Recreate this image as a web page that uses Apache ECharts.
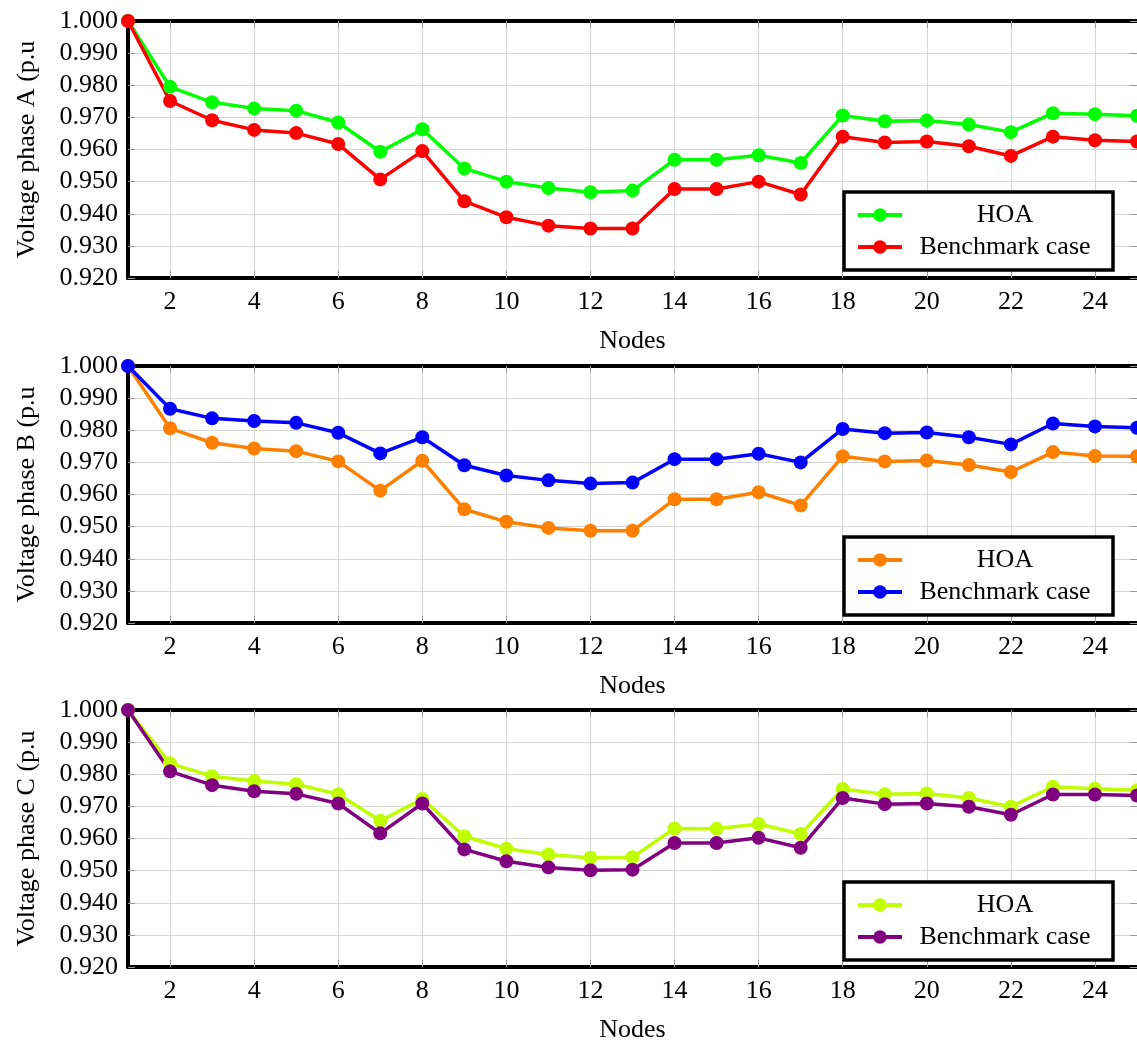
<!DOCTYPE html>
<html>
<head>
	<meta charset="utf-8">
	<title>Voltage per phase</title>
	<style>
		html, body { margin: 0; padding: 0; background: #fff; }
		#chart { width: 1137px; height: 1044px; }
	</style>
</head>
<body>
<div id="chart"></div>
<script src="https://cdn.jsdelivr.net/npm/echarts@6/dist/echarts.min.js"></script>
<script type="text/javascript">
// nodes on the x axis
var nodes = ['1','2','3','4','5','6','7','8','9','10','11','12','13','14','15','16','17','18','19','20','21','22','23','24','25'];
var yTicks = [0.92, 1.0];

// phase A
var hoaA = [1.000, 0.9795, 0.9747, 0.9728, 0.9721, 0.9684, 0.9593, 0.9663, 0.9541, 0.9500, 0.9480, 0.9467, 0.9472, 0.9568, 0.9568, 0.9582, 0.9558, 0.9706, 0.9688, 0.9690, 0.9678, 0.9654, 0.9713, 0.9710, 0.9705];
var benchA = [1.000, 0.9751, 0.9691, 0.9661, 0.9651, 0.9617, 0.9507, 0.9595, 0.9439, 0.9389, 0.9363, 0.9354, 0.9354, 0.9477, 0.9477, 0.9500, 0.9460, 0.9640, 0.9622, 0.9625, 0.9610, 0.9580, 0.9640, 0.9629, 0.9625];
// phase B
var hoaB = [1.000, 0.9806, 0.9761, 0.9743, 0.9735, 0.9703, 0.9612, 0.9705, 0.9554, 0.9515, 0.9496, 0.9487, 0.9487, 0.9585, 0.9585, 0.9607, 0.9566, 0.9719, 0.9703, 0.9706, 0.9692, 0.9670, 0.9732, 0.9720, 0.9719];
var benchB = [1.000, 0.9867, 0.9837, 0.9829, 0.9823, 0.9792, 0.9728, 0.9778, 0.9691, 0.9659, 0.9644, 0.9634, 0.9637, 0.9710, 0.9710, 0.9727, 0.9700, 0.9804, 0.9791, 0.9793, 0.9778, 0.9756, 0.9821, 0.9812, 0.9808];
// phase C
var hoaC = [1.000, 0.9834, 0.9794, 0.9779, 0.9769, 0.9738, 0.9655, 0.9723, 0.9607, 0.9568, 0.9550, 0.9540, 0.9542, 0.9631, 0.9630, 0.9645, 0.9614, 0.9754, 0.9738, 0.9740, 0.9726, 0.9699, 0.9761, 0.9755, 0.9750];
var benchC = [1.000, 0.9809, 0.9766, 0.9747, 0.9739, 0.9709, 0.9616, 0.9709, 0.9566, 0.9529, 0.9510, 0.9501, 0.9503, 0.9586, 0.9586, 0.9602, 0.9571, 0.9726, 0.9707, 0.9709, 0.9699, 0.9674, 0.9737, 0.9737, 0.9734];

var FONT = '"Liberation Serif", "DejaVu Serif", serif';

var panels = [
	{ key: 'A', label: 'Voltage phase A (p.u', hoa: hoaA, bench: benchA, hoaColor: '#00ff00', benchColor: '#ff0000', top: 21, legendTop: 192 },
	{ key: 'B', label: 'Voltage phase B (p.u', hoa: hoaB, bench: benchB, hoaColor: '#ff8000', benchColor: '#0000ff', top: 366, legendTop: 537 },
	{ key: 'C', label: 'Voltage phase C (p.u', hoa: hoaC, bench: benchC, hoaColor: '#bfff00', benchColor: '#800080', top: 710, legendTop: 882 }
];

function evenNode(index) { return index % 2 === 1; }

var grid = [], xAxis = [], yAxis = [], series = [], legend = [];

panels.forEach(function (p, i) {
	grid.push({ left: 128, right: -6, top: p.top, height: 257 });

	// bottom axis with labels
	xAxis.push({
		type: 'category', gridIndex: i, data: nodes, boundaryGap: false,
		name: 'Nodes', nameLocation: 'middle', nameGap: 50,
		nameTextStyle: { fontFamily: FONT, fontSize: 26, color: '#000' },
		axisLine: { lineStyle: { color: '#000', width: 4 } },
		axisTick: { inside: true, length: 7, interval: evenNode, lineStyle: { color: '#999', width: 1 } },
		axisLabel: { interval: evenNode, margin: 11, fontFamily: FONT, fontSize: 26, color: '#000' },
		splitLine: { show: true, interval: evenNode, lineStyle: { color: '#d6d6d6', width: 1 } }
	});
	// top border of the frame
	xAxis.push({
		type: 'category', gridIndex: i, data: nodes, boundaryGap: false, position: 'top',
		axisLine: { lineStyle: { color: '#000', width: 4 } },
		axisTick: { inside: true, length: 7, interval: evenNode, lineStyle: { color: '#999', width: 1 } },
		axisLabel: { show: false },
		splitLine: { show: false }
	});

	yAxis.push({
		type: 'value', gridIndex: i, min: yTicks[0], max: yTicks[1], interval: 0.01,
		name: p.label, nameLocation: 'middle', nameGap: 88, nameRotate: 90,
		nameTextStyle: { fontFamily: FONT, fontSize: 26, color: '#000' },
		axisLine: { show: true, lineStyle: { color: '#000', width: 4 } },
		axisTick: { show: true, inside: true, length: 7, lineStyle: { color: '#999', width: 1 } },
		axisLabel: { margin: 10, fontFamily: FONT, fontSize: 26, color: '#000',
			formatter: function (v) { return v.toFixed(3); } },
		splitLine: { show: true, lineStyle: { color: '#d6d6d6', width: 1 } }
	});
	// right side ticks only
	yAxis.push({
		type: 'value', gridIndex: i, min: yTicks[0], max: yTicks[1], interval: 0.01, position: 'right',
		axisLine: { show: false },
		axisTick: { show: true, inside: true, length: 7, lineStyle: { color: '#999', width: 1 } },
		axisLabel: { show: false },
		splitLine: { show: false }
	});

	[['HOA', p.hoa, p.hoaColor], ['Benchmark case', p.bench, p.benchColor]].forEach(function (s) {
		series.push({
			name: p.key + ':' + s[0], type: 'line',
			xAxisIndex: i * 2, yAxisIndex: i * 2,
			data: s[1],
			symbol: 'circle', symbolSize: 14,
			itemStyle: { color: s[2] },
			lineStyle: { color: s[2], width: 3.5 },
			animation: false
		});
	});

	legend.push({
		data: [p.key + ':HOA', p.key + ':Benchmark case'],
		orient: 'vertical', left: 844, top: p.legendTop,
		padding: [10, 10, 10, 12], itemGap: 6,
		itemWidth: 44, itemHeight: 17,
		borderColor: '#000', borderWidth: 3.5, backgroundColor: '#fff',
		selectedMode: false,
		lineStyle: { width: 4 },
		formatter: function (name) { return '{c|' + name.split(':')[1] + '}'; },
		textStyle: {
			rich: { c: { width: 196, align: 'center', fontFamily: FONT, fontSize: 26, lineHeight: 26, color: '#000' } }
		}
	});
});

var chart = echarts.init(document.getElementById('chart'), null, { renderer: 'canvas' });
chart.setOption({
	backgroundColor: '#fff',
	animation: false,
	grid: grid,
	xAxis: xAxis,
	yAxis: yAxis,
	legend: legend,
	series: series
});
</script>
</body>
</html>
